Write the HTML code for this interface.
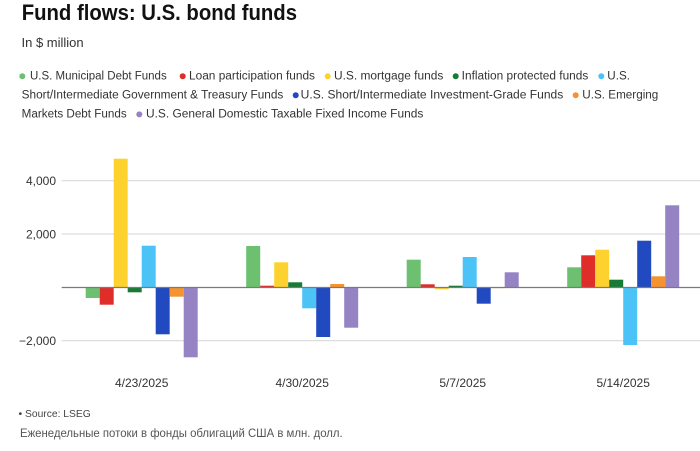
<!DOCTYPE html>
<html>
<head>
<meta charset="utf-8">
<style>
  html, body { margin: 0; padding: 0; background: #fff; }
  body { width: 700px; height: 451px; overflow: hidden; }
  svg { display: block; }
  text { font-family: "Liberation Sans", "DejaVu Sans", sans-serif; }
</style>
</head>
<body>
<svg width="700" height="451" viewBox="0 0 700 451" xmlns="http://www.w3.org/2000/svg">
  <!-- Title -->
  <text x="21.7" y="20" font-size="22" font-weight="bold" fill="#111" textLength="275.3" lengthAdjust="spacingAndGlyphs">Fund flows: U.S. bond funds</text>
  <text x="21.5" y="47" font-size="13" fill="#333">In $ million</text>

  <!-- Legend line 1 -->
  <g font-size="11.5" fill="#333">
    <circle cx="22.3" cy="76.2" r="3" fill="#6cc070"/>
    <text x="30" y="79.5" textLength="136.7" lengthAdjust="spacingAndGlyphs">U.S. Municipal Debt Funds</text>
    <circle cx="182.7" cy="76.2" r="3" fill="#df2e2a"/>
    <text x="189" y="79.5" textLength="126" lengthAdjust="spacingAndGlyphs">Loan participation funds</text>
    <circle cx="327.7" cy="76.2" r="3" fill="#fdd22f"/>
    <text x="334" y="79.5" textLength="109.3" lengthAdjust="spacingAndGlyphs">U.S. mortgage funds</text>
    <circle cx="455.7" cy="76.2" r="3" fill="#187a35"/>
    <text x="461.7" y="79.5" textLength="126.6" lengthAdjust="spacingAndGlyphs">Inflation protected funds</text>
    <circle cx="601.3" cy="76.2" r="3" fill="#4cc3f7"/>
    <text x="607.3" y="79.5" textLength="22.7" lengthAdjust="spacingAndGlyphs">U.S.</text>

    <!-- Legend line 2 -->
    <text x="21.7" y="98.5" textLength="261.6" lengthAdjust="spacingAndGlyphs">Short/Intermediate Government &amp; Treasury Funds</text>
    <circle cx="295.7" cy="95.2" r="3" fill="#2149c0"/>
    <text x="300.7" y="98.5" textLength="262.6" lengthAdjust="spacingAndGlyphs">U.S. Short/Intermediate Investment-Grade Funds</text>
    <circle cx="575.7" cy="95.2" r="3" fill="#f59330"/>
    <text x="582.3" y="98.5" textLength="76" lengthAdjust="spacingAndGlyphs">U.S. Emerging</text>

    <!-- Legend line 3 -->
    <text x="21.7" y="117.5" textLength="105" lengthAdjust="spacingAndGlyphs">Markets Debt Funds</text>
    <circle cx="139.3" cy="114.4" r="3" fill="#9683c4"/>
    <text x="146" y="117.5" textLength="277.3" lengthAdjust="spacingAndGlyphs">U.S. General Domestic Taxable Fixed Income Funds</text>
  </g>

  <!-- Gridlines -->
  <g stroke="#dddddd" stroke-width="1.2">
    <line x1="61.7" y1="180.6" x2="700" y2="180.6"/>
    <line x1="61.7" y1="234" x2="700" y2="234"/>
    <line x1="61.7" y1="340.6" x2="700" y2="340.6"/>
  </g>

  <!-- Y tick labels -->
  <g font-size="12" fill="#333" text-anchor="end">
    <text x="56" y="185">4,000</text>
    <text x="56" y="238.4">2,000</text>
    <text x="56" y="345">−2,000</text>
  </g>

  <!-- Bars -->
  <g>
    <!-- Group 1: start 85.7 -->
    <rect x="85.7"  y="287.3" width="14" height="10.7" fill="#6cc070"/>
    <rect x="99.7"  y="287.3" width="14" height="17.4" fill="#df2e2a"/>
    <rect x="113.7" y="158.7" width="14" height="128.6" fill="#fdd22f"/>
    <rect x="127.7" y="287.3" width="14" height="5" fill="#187a35"/>
    <rect x="141.7" y="245.7" width="14" height="41.6" fill="#4cc3f7"/>
    <rect x="155.7" y="287.3" width="14" height="47" fill="#2149c0"/>
    <rect x="169.7" y="287.3" width="14" height="9.4" fill="#f59330"/>
    <rect x="183.7" y="287.3" width="14" height="70" fill="#9683c4"/>

    <!-- Group 2: start 246.2 -->
    <rect x="246.2" y="246" width="14" height="41.3" fill="#6cc070"/>
    <rect x="260.2" y="285.7" width="14" height="1.6" fill="#df2e2a"/>
    <rect x="274.2" y="262.3" width="14" height="25" fill="#fdd22f"/>
    <rect x="288.2" y="282.3" width="14" height="5" fill="#187a35"/>
    <rect x="302.2" y="287.3" width="14" height="21" fill="#4cc3f7"/>
    <rect x="316.2" y="287.3" width="14" height="49.7" fill="#2149c0"/>
    <rect x="330.2" y="284" width="14" height="3.3" fill="#f59330"/>
    <rect x="344.2" y="287.3" width="14" height="40.4" fill="#9683c4"/>

    <!-- Group 3: start 406.7 -->
    <rect x="406.7" y="259.7" width="14" height="27.6" fill="#6cc070"/>
    <rect x="420.7" y="284.3" width="14" height="3" fill="#df2e2a"/>
    <rect x="434.7" y="287.3" width="14" height="2" fill="#fdd22f"/>
    <rect x="448.7" y="285.7" width="14" height="1.6" fill="#187a35"/>
    <rect x="462.7" y="257" width="14" height="30.3" fill="#4cc3f7"/>
    <rect x="476.7" y="287.3" width="14" height="16.4" fill="#2149c0"/>
    <rect x="490.7" y="287.3" width="14" height="0.8" fill="#f59330"/>
    <rect x="504.7" y="272.3" width="14" height="15" fill="#9683c4"/>

    <!-- Group 4: start 567.2 -->
    <rect x="567.2" y="267.3" width="14" height="20" fill="#6cc070"/>
    <rect x="581.2" y="255.3" width="14" height="32" fill="#df2e2a"/>
    <rect x="595.2" y="249.7" width="14" height="37.6" fill="#fdd22f"/>
    <rect x="609.2" y="279.7" width="14" height="7.6" fill="#187a35"/>
    <rect x="623.2" y="287.3" width="14" height="57.7" fill="#4cc3f7"/>
    <rect x="637.2" y="240.7" width="14" height="46.6" fill="#2149c0"/>
    <rect x="651.2" y="276.3" width="14" height="11" fill="#f59330"/>
    <rect x="665.2" y="205.3" width="14" height="82" fill="#9683c4"/>
  </g>

  <!-- Zero line -->
  <line x1="61.7" y1="287.5" x2="700" y2="287.5" stroke="#7a7a7a" stroke-width="1.2"/>

  <!-- X labels -->
  <g font-size="12" fill="#333" text-anchor="middle">
    <text x="141.7" y="386.8">4/23/2025</text>
    <text x="302.2" y="386.8">4/30/2025</text>
    <text x="462.7" y="386.8">5/7/2025</text>
    <text x="623.2" y="386.8">5/14/2025</text>
  </g>

  <!-- Footer -->
  <text x="18.5" y="416.8" font-size="10.5" fill="#444">•</text>
  <text x="25" y="416.8" font-size="10.5" fill="#444" textLength="65.7" lengthAdjust="spacingAndGlyphs">Source: LSEG</text>
  <text x="20" y="436.8" font-size="12" fill="#555" textLength="322.7" lengthAdjust="spacingAndGlyphs">Еженедельные потоки в фонды облигаций США в млн. долл.</text>
</svg>
</body>
</html>
